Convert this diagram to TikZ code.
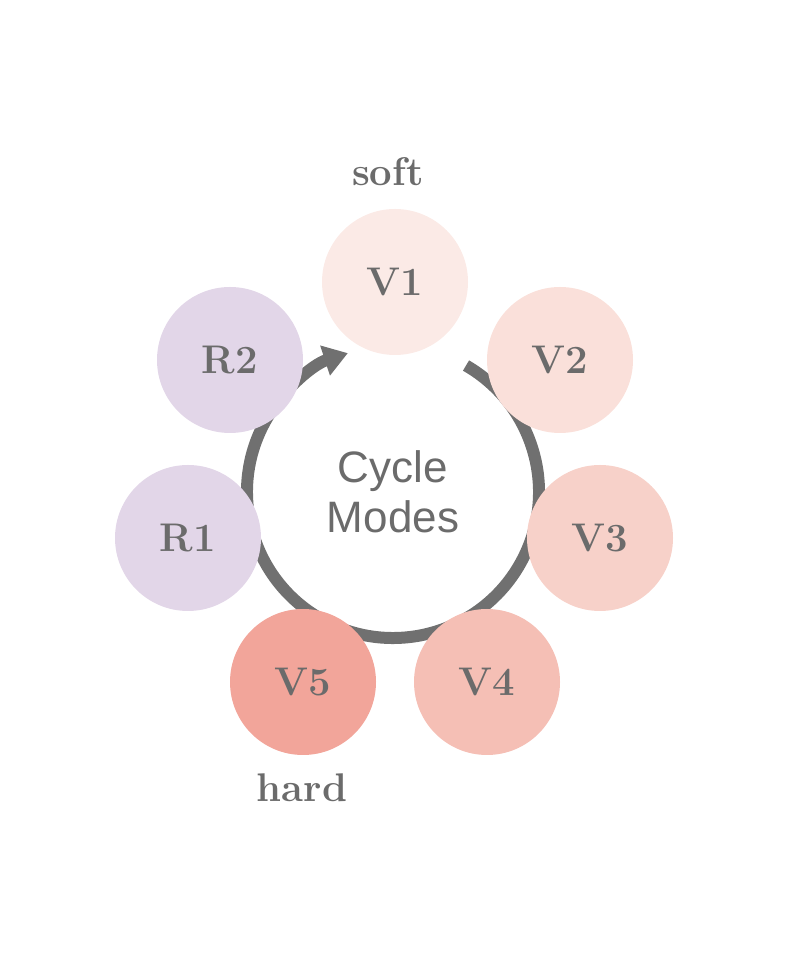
\documentclass[tikz,border=0pt]{standalone}
\usepackage{fontspec}
\setsansfont{Liberation Sans}
\usetikzlibrary{arrows.meta}
\definecolor{txt}{HTML}{6B6B6B}
\definecolor{ring}{HTML}{707070}
\definecolor{cA}{HTML}{FBEAE6}
\definecolor{cB}{HTML}{FAE0DA}
\definecolor{cC}{HTML}{F7D1C9}
\definecolor{cD}{HTML}{F5BFB5}
\definecolor{cE}{HTML}{F2A59A}
\definecolor{cR}{HTML}{E2D6E8}
\tikzset{mode/.style={circle,minimum size=146pt,inner sep=0pt,text=txt,font=\fontsize{40}{40}\selectfont\bfseries},
lbl/.style={text=txt,font=\fontsize{40}{40}\selectfont\bfseries}}
\begin{document}
\begin{tikzpicture}[x=1pt,y=1pt]
\useasboundingbox (0,0) rectangle (798,968);
\coordinate (c) at (393,476);
\draw[ring,line width=12pt,-{Triangle[length=24pt,width=30pt]}] (c) ++(60:146) arc[start angle=60,end angle=-252,radius=146];
\node[text=txt,font=\sffamily\fontsize{44}{50}\selectfont,align=center] (t) at (c) {Cycle\\Modes};
\node[mode,fill=cA] (v1) at (395,686) {V1};
\node[mode,fill=cB] (v2) at (560,608) {V2};
\node[mode,fill=cC] (v3) at (600,430) {V3};
\node[mode,fill=cD] (v4) at (487,286) {V4};
\node[mode,fill=cE] (v5) at (303,286) {V5};
\node[mode,fill=cR] (r1) at (188,430) {R1};
\node[mode,fill=cR] (r2) at (230,608) {R2};
\node[lbl] (soft) at (388,796) {soft};
\node[lbl] (hard) at (302,180) {hard};
\end{tikzpicture}
\end{document}
